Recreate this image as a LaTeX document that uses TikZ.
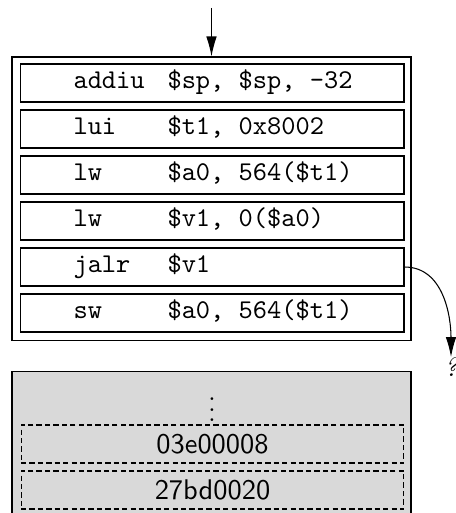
\documentclass[tikz,border=0pt]{standalone}
\usetikzlibrary{arrows.meta}
\begin{document}
\begin{tikzpicture}[x=0.38pt,y=-0.38pt,
    tip/.style={-{Latex[length=7.6pt,width=4pt]}},
    outerbox/.style={draw,minimum width=151.62pt,minimum height=107.9pt,inner sep=0pt},
    insnbox/.style={draw,minimum width=145.9pt,minimum height=14.44pt,inner sep=0pt},
    wordbox/.style={draw,dashed,dash pattern=on 2pt off 1.2pt,minimum width=145.5pt,minimum height=14.44pt,inner sep=0pt,font=\sffamily\fontsize{10.8}{13}\selectfont},
    memory/.style={draw,fill=black!15,minimum width=151.62pt,minimum height=60pt,inner sep=0pt,anchor=north},
    asm/.style={anchor=mid west,inner sep=0pt,font=\ttfamily\fontsize{10.3}{12}\selectfont}]
  \useasboundingbox (0,0) rectangle (455,513);

  % code memory (drawn first so the instruction block sits on top)
  \node[memory] (mem) at (211.5,371) {};
  \node[inner sep=0pt] (dots) at (212,402) {$\vdots$};
  \node[wordbox] (w1) at (212.5,444) {03e00008};
  \node[wordbox] (w2) at (212.5,490) {27bd0020};

  % instruction block
  \node[outerbox] (blk) at (211.5,199) {};
  \node[insnbox] (r1) at (212,83) {};
  \node[insnbox] (r2) at (212,129) {};
  \node[insnbox] (r3) at (212,175) {};
  \node[insnbox] (r4) at (212,221) {};
  \node[insnbox] (r5) at (212,267) {};
  \node[insnbox] (r6) at (212,313) {};

  \node[asm] (m1) at (73,83)  {addiu};  \node[asm] (o1) at (167,83)  {\$sp, \$sp, -32};
  \node[asm] (m2) at (73,129) {lui};    \node[asm] (o2) at (167,129) {\$t1, 0x8002};
  \node[asm] (m3) at (73,175) {lw};     \node[asm] (o3) at (167,175) {\$a0, 564(\$t1)};
  \node[asm] (m4) at (73,221) {lw};     \node[asm] (o4) at (167,221) {\$v1, 0(\$a0)};
  \node[asm] (m5) at (73,267) {jalr};   \node[asm] (o5) at (167,267) {\$v1};
  \node[asm] (m6) at (73,313) {sw};     \node[asm] (o6) at (167,313) {\$a0, 564(\$t1)};

  % control flow
  \coordinate (entry) at (211.5,8);
  \draw[tip] (entry) -- (blk.north);
  \node[inner sep=0pt,anchor=north,font=\itshape] (unknown) at (451,357) {?};
  \draw[tip] (r5.east) to[out=0,in=90] (unknown.north);
\end{tikzpicture}
\end{document}
